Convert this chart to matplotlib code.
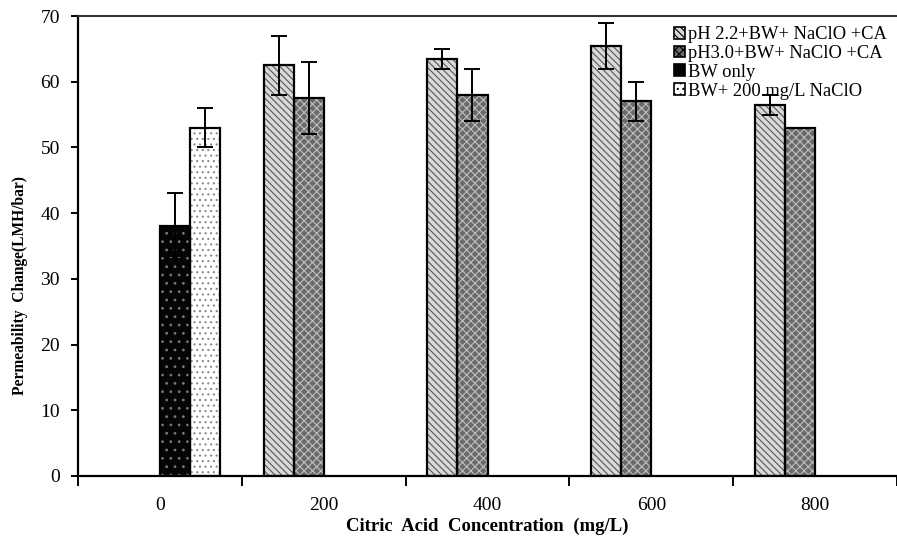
import numpy as np
import matplotlib
matplotlib.use("Agg")
import matplotlib.pyplot as plt
from matplotlib.patches import Patch

plt.rcParams['font.family'] = ['Liberation Serif', 'DejaVu Serif']
plt.rcParams['hatch.linewidth'] = 0.8

categories = ["0", "200", "400", "600", "800"]
series_names = ["pH 2.2+BW+ NaClO +CA", "pH3.0+BW+ NaClO +CA", "BW only", "BW+ 200 mg/L NaClO"]
ph22 = [np.nan, 62.5, 63.5, 65.5, 56.5]
ph22_err = [np.nan, 4.5, 1.5, 3.5, 1.5]
ph30 = [np.nan, 57.5, 58.0, 57.0, 53.0]
ph30_err = [np.nan, 5.5, 4.0, 3.0, 0.0]
bw_only = [38.0, np.nan, np.nan, np.nan, np.nan]
bw_only_err = [5.0, np.nan, np.nan, np.nan, np.nan]
bw_naclo = [53.0, np.nan, np.nan, np.nan, np.nan]
bw_naclo_err = [3.0, np.nan, np.nan, np.nan, np.nan]

values = [ph22, ph30, bw_only, bw_naclo]
errors = [ph22_err, ph30_err, bw_only_err, bw_naclo_err]
# (face colour, hatch colour, hatch pattern)
styles = [("#d9d9d9", "#555555", "\\\\\\\\\\"),
          ("#6a6a6a", "#bfbfbf", "xxxx"),
          ("#050505", "#777777", ".."),
          ("#ffffff", "#8a8a8a", "...")]

fig = plt.figure(figsize=(8.97, 5.43), dpi=100)
ax = fig.add_axes([0.087, 0.1234, 0.913, 0.8471])

x = np.arange(len(categories))
n = len(values)
width = 0.735 / n
for i, (vals, errs, (fc, hc, hatch)) in enumerate(zip(values, errors, styles)):
    pos = x + (i - (n - 1) / 2) * width
    v = np.array(vals, dtype=float)
    e = np.array(errs, dtype=float)
    mask = ~np.isnan(v)
    ax.bar(pos[mask], v[mask], width, color=fc, edgecolor=hc, hatch=hatch,
           linewidth=0, zorder=2)
    ax.bar(pos[mask], v[mask], width, facecolor="none", edgecolor="black",
           linewidth=1.6, zorder=3)
    em = mask & ~np.isnan(e) & (np.nan_to_num(e) > 0)
    ax.errorbar(pos[em], v[em], yerr=e[em], fmt="none", ecolor="black",
                elinewidth=1.4, capsize=6, capthick=1.4, zorder=4)

ax.set_xlim(-0.5, len(categories) - 0.5)
ax.set_ylim(0, 70)
ax.set_yticks(np.arange(0, 71, 10))
ax.set_xticks(x)
ax.set_xticklabels(categories)
ax.set_xticks(np.arange(-0.5, len(categories), 1.0), minor=True)
ax.tick_params(axis="x", which="major", length=0, pad=15, labelsize=14)
ax.tick_params(axis="x", which="minor", length=7, width=1.4, direction="out")
ax.tick_params(axis="y", length=5, width=1.4, direction="out", labelsize=14, pad=8)

ax.spines["right"].set_visible(False)
ax.spines["top"].set_color("#333333")
ax.spines["top"].set_linewidth(1.5)
for s in ["left", "bottom"]:
    ax.spines[s].set_linewidth(1.6)

ax.set_ylabel("Permeability  Change(LMH/bar)", fontsize=11.2, fontweight="bold")
ax.yaxis.set_label_coords(-0.061, 0.413)
ax.set_xlabel("Citric  Acid  Concentration  (mg/L)", fontsize=13.5, fontweight="bold", labelpad=3)

handles = [Patch(facecolor=fc, edgecolor="black", hatch=h, linewidth=1.2)
           for fc, hc, h in styles]
ax.legend(handles, series_names, loc="upper right", bbox_to_anchor=(1.0, 1.0),
          frameon=False, fontsize=13.3, handlelength=0.6, handleheight=0.6,
          handletextpad=0.15, labelspacing=0.1, borderaxespad=0.15)

fig.savefig("out.png", dpi=100)
